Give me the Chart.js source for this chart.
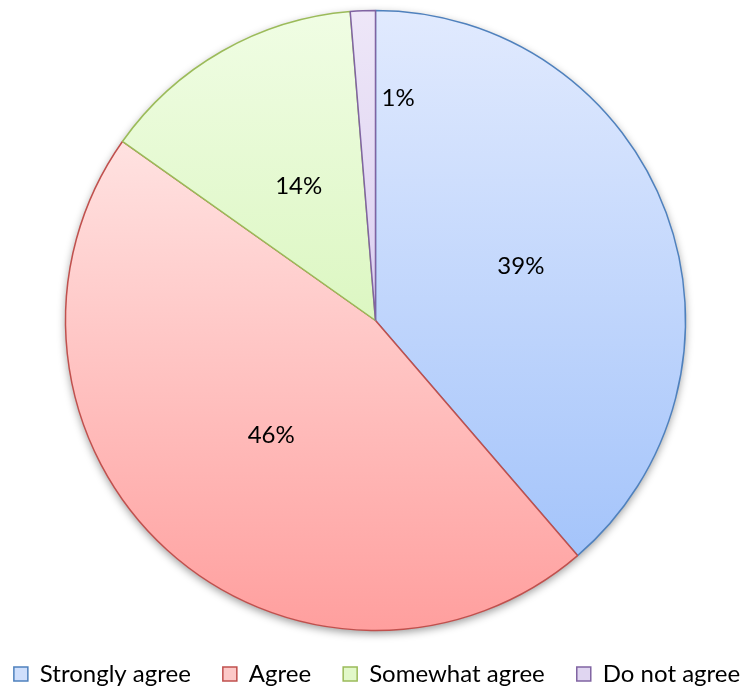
<!DOCTYPE html>
<html><head><meta charset="utf-8">
<script src="https://cdn.jsdelivr.net/npm/chart.js@4.4.1/dist/chart.umd.min.js"></script>
<style>html,body{margin:0;padding:0;background:#fff;overflow:hidden}#wrap{width:751px;height:689px;position:relative}</style>
</head><body><div id="wrap"><canvas id="c" width="751" height="689"></canvas></div>
<script>
// ---- data ----
const categories = ['Strongly agree', 'Agree', 'Somewhat agree', 'Do not agree'];
const shares = [38.7, 46.1, 13.9, 1.3];
const shareLabels = shares.map(v => Math.round(v) + '%');

// ---- styles ----
const gradTop = ['rgb(225,234,254)', 'rgb(255,244,243)', 'rgb(240,253,228)', 'rgb(238,231,248)'];
const gradBottom = ['rgb(156,191,250)', 'rgb(255,159,158)', 'rgb(200,240,160)', 'rgb(200,182,232)'];
const borderColors = ['#4f81bd', '#c0504d', '#9bbb59', '#8064a2'];
const legendFill = ['#cfdffc', '#fcc9c8', '#e2f8c9', '#e0d6f1'];
const FONT = 'Lato, "Open Sans", sans-serif';

function sliceFill(context) {
  const chart = context.chart;
  const area = chart.chartArea;
  if (!area) return gradTop[context.dataIndex];
  const meta = chart.getDatasetMeta(0);
  const arc = meta.data[0];
  let top = area.top, bottom = area.bottom;
  if (arc && arc.outerRadius) { top = arc.y - arc.outerRadius; bottom = arc.y + arc.outerRadius; }
  const g = chart.ctx.createLinearGradient(0, top, 0, bottom);
  g.addColorStop(0, gradTop[context.dataIndex]);
  g.addColorStop(1, gradBottom[context.dataIndex]);
  return g;
}

const shadowPlugin = {
  id: 'pieShadow',
  beforeDatasetsDraw(chart) {
    const arc = chart.getDatasetMeta(0).data[0];
    if (!arc) return;
    const ctx = chart.ctx;
    ctx.save();
    ctx.shadowColor = 'rgba(0,0,0,0.4)';
    ctx.shadowBlur = 8;
    ctx.shadowOffsetY = 3;
    ctx.beginPath();
    ctx.arc(arc.x, arc.y, arc.outerRadius, 0, Math.PI * 2);
    ctx.fillStyle = '#ffffff';
    ctx.fill();
    ctx.restore();
  }
};

const labelPlugin = {
  id: 'sliceLabels',
  afterDatasetsDraw(chart) {
    const ctx = chart.ctx;
    const total = shares.reduce((a, b) => a + b, 0);
    ctx.save();
    ctx.font = '24px ' + FONT;
    ctx.fillStyle = '#000';
    ctx.textBaseline = 'middle';
    chart.getDatasetMeta(0).data.forEach((arc, i) => {
      const r = arc.outerRadius;
      if (shares[i] / total < 0.03) {
        const a = arc.endAngle;
        const rr = r * 0.716;
        ctx.textAlign = 'left';
        ctx.fillText(shareLabels[i], arc.x + Math.cos(a) * rr + 6, arc.y + Math.sin(a) * rr);
      } else {
        const a = (arc.startAngle + arc.endAngle) / 2;
        ctx.textAlign = 'center';
        ctx.fillText(shareLabels[i], arc.x + Math.cos(a) * r * 0.5, arc.y + Math.sin(a) * r * 0.5);
      }
    });
    ctx.restore();
  }
};

new Chart(document.getElementById('c'), {
  type: 'pie',
  data: {
    labels: categories,
    datasets: [{
      data: shares,
      backgroundColor: sliceFill,
      borderColor: borderColors,
      borderWidth: 1.5,
      radius: 310
    }]
  },
  options: {
    responsive: false,
    devicePixelRatio: 1,
    animation: false,
    layout: { padding: { top: 11, bottom: -7, left: -21, right: -24 } },
    plugins: {
      tooltip: { enabled: false },
      legend: {
        position: 'bottom',
        labels: {
          boxWidth: 14,
          boxHeight: 14,
          padding: 32,
          color: '#000',
          font: { family: FONT, size: 24 },
          generateLabels(chart) {
            return categories.map((c, i) => ({
              text: c,
              fillStyle: legendFill[i],
              strokeStyle: borderColors[i],
              lineWidth: 1.5,
              hidden: false,
              index: i,
              datasetIndex: 0
            }));
          }
        }
      }
    }
  },
  plugins: [shadowPlugin, labelPlugin]
});
</script>
</body></html>
